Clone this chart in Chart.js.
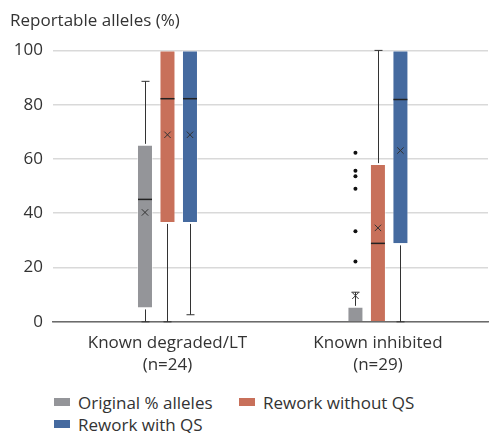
<!DOCTYPE html>
<html>
<head>
<meta charset="utf-8">
<script src="https://cdn.jsdelivr.net/npm/chart.js@4"></script>
<style>
  body { margin: 0; background: #fff; font-family: "Open Sans", sans-serif; }
  #wrap { position: relative; width: 493px; height: 433px; }
  #legend { position: absolute; left: 54px; top: 391px; display: grid;
    grid-template-columns: 185px auto; row-gap: 0; color: #333; font-size: 17px; }
  #legend div { display: flex; align-items: center; height: 22px; white-space: nowrap; }
  #legend span.box { display: inline-block; width: 16px; height: 8px; margin-right: 8px; }
</style>
</head>
<body>
<div id="wrap">
  <canvas id="chart" width="493" height="390"></canvas>
  <div id="legend"></div>
</div>
<script>
const categories = [['Known degraded/LT', '(n=24)'], ['Known inhibited', '(n=29)']];
const seriesNames = ['Original % alleles', 'Rework without QS', 'Rework with QS'];
const colors = ['#949599', '#c8705a', '#456a9f'];
const yTicks = [0, 20, 40, 60, 80, 100];

// box stats per series, one value per category
const originalQ1 = [5.3, 0];
const originalQ3 = [65.2, 5.5];
const originalMedian = [45.1, 0];
const originalMean = [40.3, 9.6];
const originalMin = [0, 0];
const originalMax = [88.6, 10.9];
const originalOutliers = [[], [62.3, 55.7, 53.6, 49.0, 33.4, 22.2]];

const noQsQ1 = [36.8, 0];
const noQsQ3 = [100, 58.1];
const noQsMedian = [82.2, 28.9];
const noQsMean = [68.9, 34.6];
const noQsMin = [0, 0];
const noQsMax = [100, 100];
const noQsOutliers = [[], []];

const qsQ1 = [36.8, 28.9];
const qsQ3 = [100, 100];
const qsMedian = [82.2, 81.9];
const qsMean = [68.9, 63.1];
const qsMin = [2.6, 0];
const qsMax = [100, 100];
const qsOutliers = [[], []];

const stats = [
  {q1: originalQ1, q3: originalQ3, median: originalMedian, mean: originalMean, min: originalMin, max: originalMax, out: originalOutliers},
  {q1: noQsQ1, q3: noQsQ3, median: noQsMedian, mean: noQsMean, min: noQsMin, max: noQsMax, out: noQsOutliers},
  {q1: qsQ1, q3: qsQ3, median: qsMedian, mean: qsMean, min: qsMin, max: qsMax, out: qsOutliers}
];

const datasets = stats.map((s, di) => ({
  label: seriesNames[di],
  backgroundColor: colors[di],
  borderColor: 'rgba(255,255,255,0.45)',
  borderWidth: 1,
  data: categories.map((c, i) => ({x: i, y: [s.q1[i], s.q3[i]]}))
}));

const boxExtras = {
  id: 'boxExtras',
  afterDatasetsDraw(chart) {
    const ctx = chart.ctx;
    const y = chart.scales.y;
    const seg = (x1, y1, x2, y2) => {
      ctx.beginPath(); ctx.moveTo(x1, y1); ctx.lineTo(x2, y2); ctx.stroke();
    };
    stats.forEach((s, di) => {
      const meta = chart.getDatasetMeta(di);
      meta.data.forEach((bar, i) => {
        const cx = Math.round(bar.x) + 0.5;
        const half = bar.width / 2;
        ctx.save();
        ctx.strokeStyle = '#333';
        ctx.lineWidth = 1;
        // whiskers and caps
        if (s.max[i] > s.q3[i]) {
          const top = y.getPixelForValue(s.max[i]);
          seg(cx, y.getPixelForValue(s.q3[i]) - 1, cx, top);
          seg(cx - 4, top, cx + 4, top);
        }
        if (s.min[i] < s.q1[i]) {
          const bot = y.getPixelForValue(s.min[i]);
          seg(cx, y.getPixelForValue(s.q1[i]) + 2, cx, bot);
          seg(cx - 4, bot, cx + 4, bot);
        }
        // median
        if (s.median[i] > s.q1[i]) {
          ctx.lineWidth = 1.5;
          ctx.strokeStyle = '#222';
          const my = y.getPixelForValue(s.median[i]);
          seg(bar.x - half + 1, my, bar.x + half - 1, my);
        }
        // mean
        ctx.lineWidth = 1;
        ctx.strokeStyle = '#333';
        const mx = bar.x, my = y.getPixelForValue(s.mean[i]), r = 3.2;
        seg(mx - r, my - r, mx + r, my + r);
        seg(mx - r, my + r, mx + r, my - r);
        // outliers
        ctx.fillStyle = '#111';
        s.out[i].forEach(v => {
          ctx.beginPath();
          ctx.arc(bar.x, y.getPixelForValue(v), 2, 0, Math.PI * 2);
          ctx.fill();
        });
        ctx.restore();
      });
    });
  }
};

const font = {family: '"Open Sans", sans-serif', size: 17};

new Chart(document.getElementById('chart'), {
  type: 'bar',
  data: {datasets: datasets},
  plugins: [boxExtras],
  options: {
    responsive: false,
    animation: false,
    categoryPercentage: 0.3207,
    barPercentage: 0.711,
    layout: {padding: {left: 10, right: 5, top: 0, bottom: 4}},
    plugins: {
      legend: {display: false},
      tooltip: {enabled: false},
      title: {
        display: true,
        text: 'Reportable alleles (%)',
        align: 'start',
        color: '#333',
        font: {family: font.family, size: 17, weight: 'normal'},
        padding: {top: 11, bottom: 19}
      }
    },
    scales: {
      x: {
        type: 'linear',
        offset: false,
        min: -0.544,
        max: 1.523,
        afterBuildTicks: (scale) => { scale.ticks = categories.map((c, i) => ({value: i})); },
        ticks: {
          callback: (v) => categories[v],
          color: '#333',
          font: {family: font.family, size: 17, lineHeight: 1.3},
          padding: 10,
          maxRotation: 0,
          autoSkip: false
        },
        grid: {display: false, drawTicks: false},
        border: {display: true, color: '#6b6b6b', width: 1.5}
      },
      y: {
        min: 0,
        max: 100,
        afterBuildTicks: (scale) => { scale.ticks = yTicks.map(v => ({value: v})); },
        afterFit: (scale) => { scale.width = 43; },
        ticks: {color: '#333', font: font, padding: 10},
        grid: {color: '#d9d9d9', lineWidth: 1.5, drawTicks: false},
        border: {display: false}
      }
    }
  }
});

const legendEl = document.getElementById('legend');
seriesNames.forEach((name, i) => {
  const item = document.createElement('div');
  item.innerHTML = '<span class="box" style="background:' + colors[i] + '"></span>' + name;
  legendEl.appendChild(item);
});
</script>
</body>
</html>
